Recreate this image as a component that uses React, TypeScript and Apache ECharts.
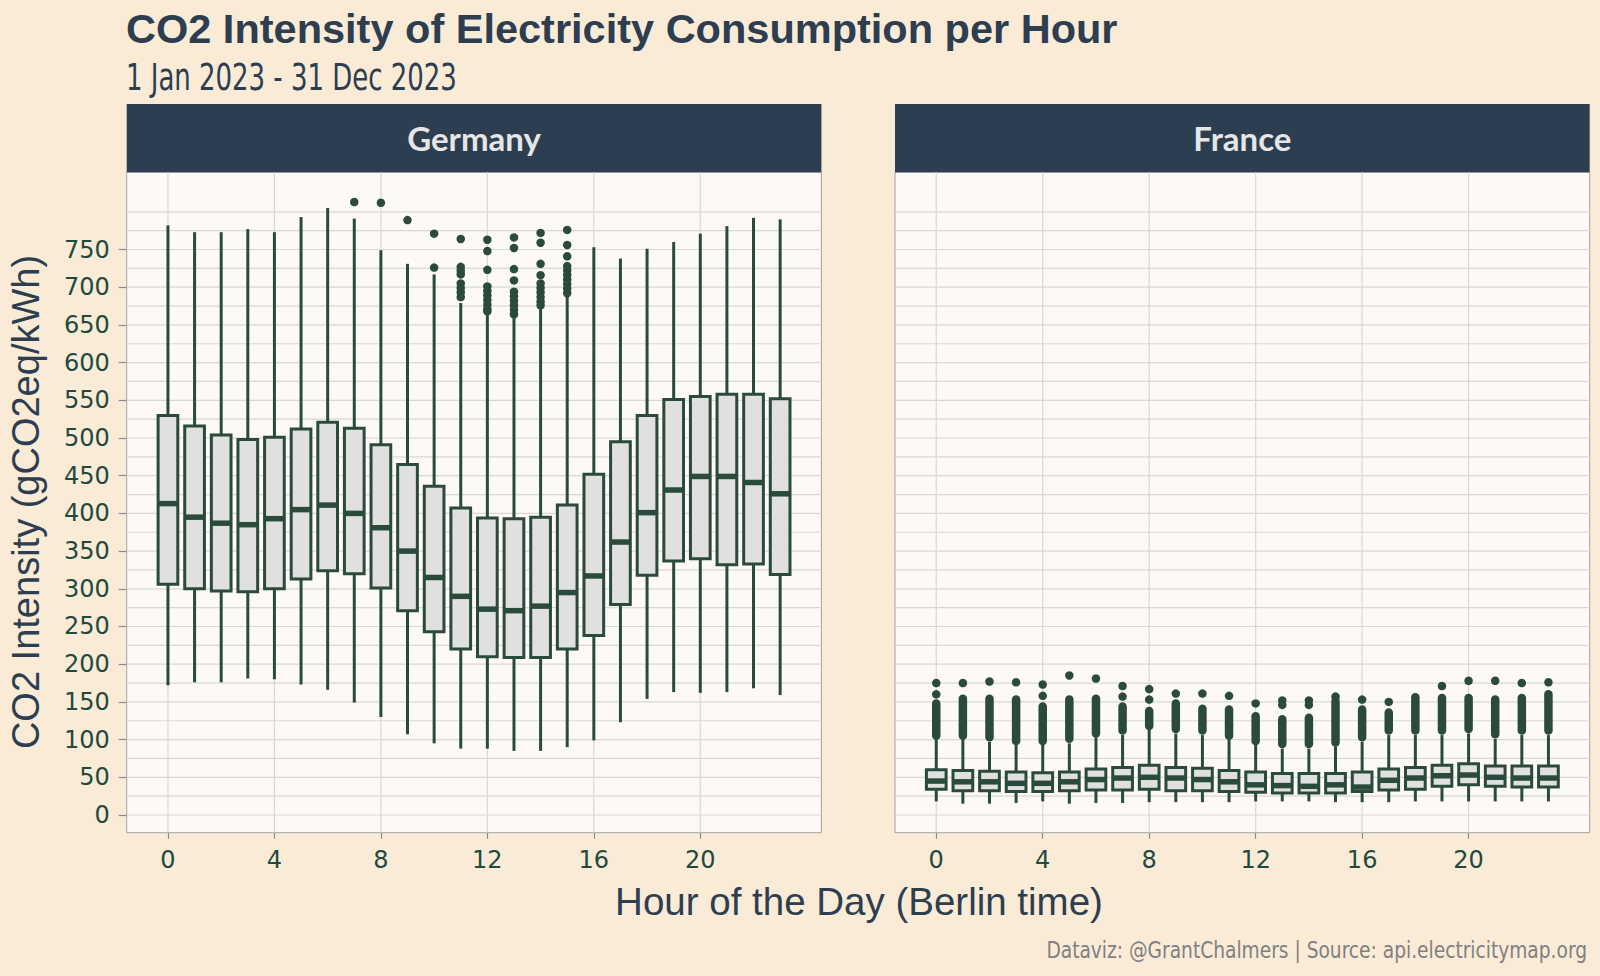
import React, { useEffect, useRef } from "react";
import * as echarts from "echarts";

// ---------- categories / ticks ----------
const HOURS = [0, 1, 2, 3, 4, 5, 6, 7, 8, 9, 10, 11, 12, 13, 14, 15, 16, 17, 18, 19, 20, 21, 22, 23];
const X_TICKS = [0, 4, 8, 12, 16, 20];
const Y_TICKS = [0, 50, 100, 150, 200, 250, 300, 350, 400, 450, 500, 550, 600, 650, 700, 750];
const Y_GRID = [0, 25, 50, 75, 100, 125, 150, 175, 200, 225, 250, 275, 300, 325, 350, 375, 400, 425, 450, 475, 500, 525, 550, 575, 600, 625, 650, 675, 700, 725, 750, 775, 800];
const PANELS = ["Germany", "France"];

// ---------- Germany (gCO2eq/kWh) ----------
const DE_LOW = [172, 176, 176, 181, 180, 173, 166, 149, 130, 107, 95, 88, 88, 85, 85, 90, 99, 123, 154, 163, 162, 163, 168, 159];
const DE_Q1 = [306, 300, 297, 296, 300, 313, 324, 320, 301, 271, 243, 220, 210, 209, 209, 220, 238, 279, 318, 337, 340, 332, 333, 319];
const DE_MEDIAN = [413, 395, 387, 385, 393, 405, 411, 400, 381, 350, 315, 290, 273, 271, 277, 295, 317, 362, 401, 431, 449, 449, 441, 426];
const DE_Q3 = [530, 516, 504, 498, 501, 512, 521, 513, 491, 465, 436, 407, 394, 393, 395, 411, 452, 495, 530, 551, 555, 558, 558, 552];
const DE_HIGH = [782, 773, 773, 777, 773, 793, 805, 791, 749, 731, 717, 679, 666, 659, 671, 687, 753, 738, 751, 760, 771, 781, 792, 790];
const DE_OUTLIERS: number[][] = [
  [], [], [], [], [], [], [], [813], [812], [789], [771, 726],
  [764, 727, 722, 717, 705, 699, 693, 687],
  [763, 748, 723, 701, 695, 689, 683, 677, 671, 668],
  [766, 752, 724, 709, 694, 688, 682, 676, 670, 664],
  [772, 759, 731, 716, 705, 699, 693, 687, 681, 676],
  [776, 756, 741, 728, 722, 716, 710, 704, 698, 692],
  [], [], [], [], [], [], [], [],
];

// ---------- France (gCO2eq/kWh) ----------
const FR_LOW = [18, 15, 15, 16, 18, 15, 16, 16, 17, 17, 17, 17, 18, 18, 18, 17, 17, 17, 18, 18, 18, 18, 18, 18];
const FR_Q1 = [34, 32, 32, 31, 31, 32, 33, 33, 34, 32, 32, 31, 30, 29, 29, 29, 31, 33, 34, 38, 40, 38, 37, 37];
const FR_MEDIAN = [45, 44, 44, 42, 42, 44, 47, 49, 50, 49, 47, 44, 40, 39, 38, 40, 37, 46, 49, 52, 53, 50, 49, 49];
const FR_Q3 = [60, 59, 58, 57, 56, 57, 61, 63, 66, 63, 62, 59, 57, 55, 55, 55, 57, 61, 63, 66, 68, 65, 65, 65];
const FR_HIGH = [100, 100, 97, 93, 93, 95, 103, 106, 113, 108, 106, 100, 93, 88, 88, 91, 97, 106, 106, 106, 108, 101, 106, 106];
// dense runs of outliers (lowest and highest point of each run)
const FR_DENSE_LO = [105, 105, 103, 98, 98, 101, 108, 112, 118, 114, 112, 105, 98, 94, 94, 96, 103, 112, 112, 112, 114, 107, 112, 112];
const FR_DENSE_HI = [148, 154, 154, 153, 144, 153, 154, 144, 138, 148, 141, 140, 131, 127, 129, 151, 140, 136, 156, 155, 155, 153, 155, 160];
const FR_OUTLIERS: number[][] = [
  [175, 160], [175], [177], [176], [173, 158], [185], [181], [171, 157], [167, 153], [161], [161], [158],
  [148], [152, 146], [152, 146], [157], [153], [150], [], [171], [178], [178], [175], [176],
];

// ---------- style ----------
const BG = "#faebd7";
const PANEL_BG = "#fdf9f7";
const STRIP = "#2c3e50";
const NAVY = "#2c3e50";
const GREEN = "#2a4b3b";
const LABEL = "#1f4a3e";
const GRID_COLOR = "#d8d8d8";
const BOX_FILL = "#e0e0e0";
const BOX_WIDTH = 0.74;
const DOT = 8.5;

const GRIDS = [
  { left: 126.7, top: 172.3, width: 694.7, height: 660.4 },
  { left: 895, top: 172.3, width: 694.7, height: 660.4 },
];
const X_MIN = -1.55;
const X_MAX = 24.55;
const Y_MIN = -23.5;
const Y_MAX = 852.4;

function boxData(low: number[], q1: number[], med: number[], q3: number[], high: number[]) {
  return HOURS.map((h, i) => [h, low[i], q1[i], med[i], q3[i], high[i]]);
}
function outlierData(out: number[][]) {
  const res: number[][] = [];
  HOURS.forEach((h, i) => out[i].forEach((v) => res.push([h, v])));
  return res;
}

export default function App() {
  const ref = useRef<HTMLDivElement>(null);
  useEffect(() => {
    if (!ref.current) return;
    const chart = echarts.init(ref.current, null, { renderer: "svg" });

    const hGrid = (gi: number) => ({
      type: "custom",
      xAxisIndex: gi,
      yAxisIndex: gi,
      silent: true,
      z: 1,
      data: Y_GRID.map((v) => [0, v]),
      renderItem: (params: any, api: any) => {
        const cs = params.coordSys;
        const y = api.coord([0, api.value(1)])[1];
        return { type: "line", shape: { x1: cs.x, y1: y, x2: cs.x + cs.width, y2: y }, style: { stroke: GRID_COLOR, lineWidth: 1.2 } };
      },
    });
    const vGrid = (gi: number) => ({
      type: "custom",
      xAxisIndex: gi,
      yAxisIndex: gi,
      silent: true,
      z: 1,
      data: X_TICKS.map((v) => [v, 0]),
      renderItem: (params: any, api: any) => {
        const cs = params.coordSys;
        const x = api.coord([api.value(0), 0])[0];
        return { type: "line", shape: { x1: x, y1: cs.y, x2: x, y2: cs.y + cs.height }, style: { stroke: GRID_COLOR, lineWidth: 1.2 } };
      },
    });
    const boxes = (gi: number, data: number[][]) => ({
      type: "custom",
      xAxisIndex: gi,
      yAxisIndex: gi,
      silent: true,
      z: 3,
      data,
      renderItem: (params: any, api: any) => {
        const x = api.value(0);
        const [cx, yLo] = api.coord([x, api.value(1)]);
        const yQ1 = api.coord([x, api.value(2)])[1];
        const yMed = api.coord([x, api.value(3)])[1];
        const yQ3 = api.coord([x, api.value(4)])[1];
        const yHi = api.coord([x, api.value(5)])[1];
        const w = api.size([BOX_WIDTH, 0])[0];
        return {
          type: "group",
          children: [
            { type: "line", shape: { x1: cx, y1: yHi, x2: cx, y2: yQ3 }, style: { stroke: GREEN, lineWidth: 3 } },
            { type: "line", shape: { x1: cx, y1: yQ1, x2: cx, y2: yLo }, style: { stroke: GREEN, lineWidth: 3 } },
            { type: "rect", shape: { x: cx - w / 2, y: yQ3, width: w, height: yQ1 - yQ3 }, style: { fill: BOX_FILL, stroke: GREEN, lineWidth: 3 } },
            { type: "line", shape: { x1: cx - w / 2, y1: yMed, x2: cx + w / 2, y2: yMed }, style: { stroke: GREEN, lineWidth: 5.5 } },
          ],
        };
      },
    });
    const dense = (gi: number, lo: number[], hi: number[]) => ({
      type: "custom",
      xAxisIndex: gi,
      yAxisIndex: gi,
      silent: true,
      z: 4,
      data: HOURS.map((h, i) => [h, lo[i], hi[i]]),
      renderItem: (params: any, api: any) => {
        const x = api.value(0);
        const [cx, y1] = api.coord([x, api.value(1)]);
        const y2 = api.coord([x, api.value(2)])[1];
        return { type: "line", shape: { x1: cx, y1, x2: cx, y2 }, style: { stroke: GREEN, lineWidth: DOT, lineCap: "round" } };
      },
    });
    const dots = (gi: number, data: number[][]) => ({
      type: "scatter",
      xAxisIndex: gi,
      yAxisIndex: gi,
      silent: true,
      z: 4,
      symbol: "circle",
      symbolSize: DOT,
      itemStyle: { color: GREEN, opacity: 1 },
      data,
    });

    const xAxis = (gi: number) => ({
      gridIndex: gi,
      type: "value",
      position: "bottom",
      min: X_MIN,
      max: X_MAX,
      axisLine: { show: false, onZero: false },
      splitLine: { show: false },
      axisTick: { show: true, customValues: X_TICKS, length: 6, lineStyle: { color: "#8a8a8a", width: 1.2 } },
      axisLabel: { customValues: X_TICKS, color: LABEL, fontSize: 24, fontFamily: "DejaVu Sans", margin: 15 },
    });
    const yAxis = (gi: number) => ({
      gridIndex: gi,
      type: "value",
      position: "left",
      min: Y_MIN,
      max: Y_MAX,
      axisLine: { show: false, onZero: false },
      splitLine: { show: false },
      axisTick: { show: gi === 0, customValues: Y_TICKS, length: 8, lineStyle: { color: "#8a8a8a", width: 1.2 } },
      axisLabel: { show: gi === 0, customValues: Y_TICKS, color: LABEL, fontSize: 24, fontFamily: "DejaVu Sans", margin: 17 },
    });

    const graphics: any[] = [
      { type: "text", x: 126, y: 28, style: { text: "CO2 Intensity of Electricity Consumption per Hour", fill: NAVY, font: "bold 41.5px 'Liberation Sans', Arial, sans-serif", textAlign: "left", textVerticalAlign: "middle" } },
      { type: "text", x: 126, y: 77, scaleX: 0.78, style: { text: "1 Jan 2023 - 31 Dec 2023", fill: NAVY, font: "37px 'DejaVu Sans Condensed', 'Liberation Sans Narrow', sans-serif", textAlign: "left", textVerticalAlign: "middle" } },
      { type: "text", x: 25.5, y: 502, rotation: Math.PI / 2, style: { text: "CO2 Intensity (gCO2eq/kWh)", fill: NAVY, font: "38px 'Liberation Sans', Arial, sans-serif", textAlign: "center", textVerticalAlign: "middle" } },
      { type: "text", x: 859, y: 901, style: { text: "Hour of the Day (Berlin time)", fill: NAVY, font: "38.5px 'Liberation Sans', Arial, sans-serif", textAlign: "center", textVerticalAlign: "middle" } },
      { type: "text", x: 1587, y: 950, scaleX: 0.9, style: { text: "Dataviz: @GrantChalmers | Source: api.electricitymap.org", fill: "#808080", font: "23px 'DejaVu Sans Condensed', 'Liberation Sans Narrow', sans-serif", textAlign: "right", textVerticalAlign: "middle" } },
    ];
    GRIDS.forEach((g, i) => {
      graphics.push({ type: "rect", shape: { x: g.left, y: 104, width: g.width, height: g.top - 104 }, style: { fill: STRIP } });
      graphics.push({ type: "text", x: g.left + g.width / 2, y: 138, style: { text: PANELS[i], fill: "#e6e6e6", font: "bold 33px Lato, 'Open Sans', sans-serif", textAlign: "center", textVerticalAlign: "middle" } });
    });

    chart.setOption({
      animation: false,
      backgroundColor: BG,
      grid: GRIDS.map((g) => ({ ...g, show: true, backgroundColor: PANEL_BG, borderColor: "#a3a3a3", borderWidth: 1, containLabel: false })),
      xAxis: [xAxis(0), xAxis(1)],
      yAxis: [yAxis(0), yAxis(1)],
      series: [
        hGrid(0), vGrid(0), hGrid(1), vGrid(1),
        boxes(0, boxData(DE_LOW, DE_Q1, DE_MEDIAN, DE_Q3, DE_HIGH)),
        boxes(1, boxData(FR_LOW, FR_Q1, FR_MEDIAN, FR_Q3, FR_HIGH)),
        dots(0, outlierData(DE_OUTLIERS)),
        dense(1, FR_DENSE_LO, FR_DENSE_HI),
        dots(1, outlierData(FR_OUTLIERS)),
      ],
      graphic: graphics,
    });
    return () => chart.dispose();
  }, []);
  return <div ref={ref} style={{ position: "fixed", left: 0, top: 0, width: 1600, height: 976 }} />;
}
